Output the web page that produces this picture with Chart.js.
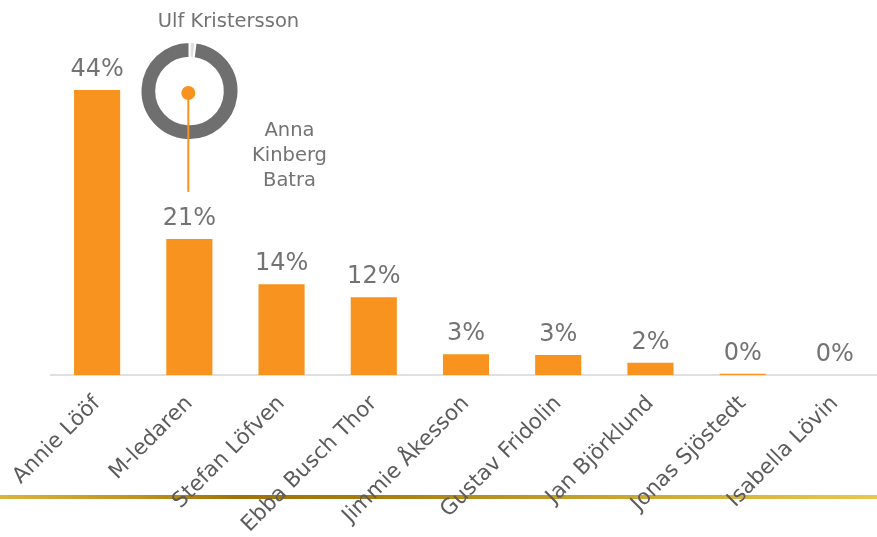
<!DOCTYPE html>
<html>
<head>
<meta charset="utf-8">
<script src="https://cdn.jsdelivr.net/npm/chart.js@4/dist/chart.umd.min.js"></script>
<style>
  html, body { margin:0; padding:0; background:#fff; overflow:hidden; }
  #wrap { position:relative; width:877px; height:537px; overflow:hidden; }
  #goldLine { position:absolute; left:0; top:495px; width:877px; height:4px;
    background:linear-gradient(to right, #d9b43e 0%, #bf961f 15%, #9f7206 27%, #a67d0c 42%, #c29f2a 65%, #e6c850 100%); }
  #barChart { position:absolute; left:0; top:0; }
  #donutChart { position:absolute; left:0; top:0; pointer-events:none; }
</style>
</head>
<body>
<div id="wrap">
  <div id="goldLine"></div>
  <canvas id="barChart" width="884" height="537"></canvas>
  <canvas id="donutChart" width="877" height="537"></canvas>
</div>
<script>
// leaders and share of votes (%)
const leaders = ['Annie Lööf', 'M-ledaren', 'Stefan Löfven', 'Ebba Busch Thor', 'Jimmie Åkesson', 'Gustav Fridolin', 'Jan Björklund', 'Jonas Sjöstedt', 'Isabella Lövin'];
const shares = [44, 21, 14, 12, 3.2, 3.1, 1.9, 0.2, 0];
const shareLabels = shares.map(v => Math.round(v) + '%');

// who M-ledaren is
const mCandidates = ['Ulf Kristersson', 'Anna Kinberg Batra'];
const mShares = [2, 98];

const FONT = "'DejaVu Sans', Verdana, sans-serif";
const ORANGE = '#f7931e';
const GREY_TXT = '#737373';

const valueLabels = {
  id: 'valueLabels',
  afterDatasetsDraw(chart){
    const ctx = chart.ctx;
    const meta = chart.getDatasetMeta(0);
    ctx.save();
    ctx.font = '24px ' + FONT;
    ctx.fillStyle = GREY_TXT;
    ctx.textAlign = 'center';
    ctx.textBaseline = 'alphabetic';
    meta.data.forEach((bar, i) => {
      ctx.fillText(shareLabels[i], bar.x, bar.y - 14);
    });
    ctx.restore();
  }
};

const barChart = new Chart(document.getElementById('barChart'), {
  type: 'bar',
  data: {
    labels: leaders,
    datasets: [{ data: shares, backgroundColor: ORANGE, borderWidth: 0,
      barPercentage: 0.5, categoryPercentage: 1 }]
  },
  options: {
    responsive: false,
    animation: false,
    layout: { padding: { left: 51, right: 3, top: 51, bottom: 0 } },
    plugins: { legend: { display: false }, tooltip: { enabled: false } },
    scales: {
      x: {
        grid: { display: false, drawTicks: false },
        border: { display: true, color: '#e0e0e0', width: 2 },
        ticks: { color: '#5c5c5c', font: { family: FONT, size: 21.5 }, minRotation: 45, maxRotation: 45, padding: 16, autoSkip: false },
        afterFit: s => { s.height = 162; s.paddingLeft = 0; s.paddingRight = 0; }
      },
      y: { display: false, min: 0, max: 50 }
    }
  },
  plugins: [valueLabels]
});

const donutExtras = {
  id: 'donutExtras',
  afterDraw(chart){
    const ctx = chart.ctx;
    const arc = chart.getDatasetMeta(0).data[0];
    const mBar = barChart.getDatasetMeta(0).data[1];
    ctx.save();
    // connector to M-ledaren bar
    ctx.strokeStyle = ORANGE;
    ctx.lineWidth = 2;
    ctx.beginPath();
    ctx.moveTo(mBar.x - 1, arc.y);
    ctx.lineTo(mBar.x - 1, mBar.y - 47);
    ctx.stroke();
    ctx.fillStyle = ORANGE;
    ctx.beginPath();
    ctx.arc(mBar.x - 1, arc.y + 2, 7, 0, Math.PI * 2);
    ctx.fill();
    // slice names
    ctx.font = '19.5px ' + FONT;
    ctx.fillStyle = GREY_TXT;
    ctx.textAlign = 'center';
    ctx.textBaseline = 'middle';
    ctx.fillText(mCandidates[0], arc.x + 39, arc.y - 69);
    const words = mCandidates[1].split(' ');
    words.forEach((w, i) => ctx.fillText(w, arc.x + 100, arc.y + 40 + i * 25));
    ctx.restore();
  }
};

new Chart(document.getElementById('donutChart'), {
  type: 'doughnut',
  data: {
    labels: mCandidates,
    datasets: [{ data: mShares, backgroundColor: ['#dedede', '#6f6f6f'], borderColor: '#ffffff', borderWidth: 2 }]
  },
  options: {
    responsive: false,
    animation: false,
    cutout: '68%',
    layout: { padding: { left: 139, right: 637, top: 41, bottom: 396 } },
    plugins: { legend: { display: false }, tooltip: { enabled: false } }
  },
  plugins: [donutExtras]
});
</script>
</body>
</html>
